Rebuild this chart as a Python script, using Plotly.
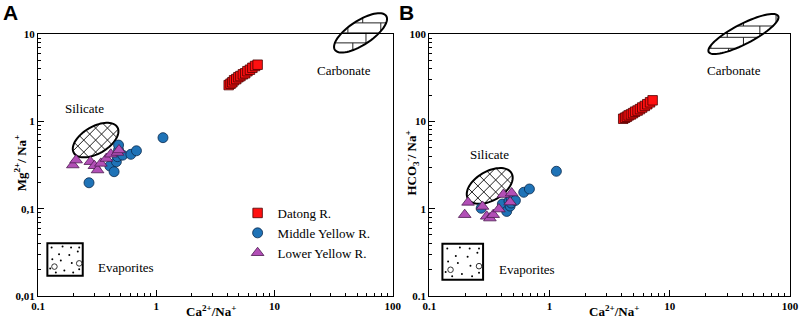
import math
import plotly.graph_objects as go

# ---------------- data ----------------
datong_ca_na = [4.1, 4.25, 4.4, 4.55, 4.75, 4.95, 5.15, 5.4, 5.65, 5.9, 6.2, 6.5, 6.85, 7.2]
datong_mg_na = [2.6, 2.7, 2.8, 2.95, 3.05, 3.2, 3.3, 3.45, 3.55, 3.75, 3.9, 4.1, 4.3, 4.45]
datong_hco3_na = [10.7, 11.0, 11.3, 11.7, 12.0, 12.4, 12.9, 13.3, 13.8, 14.4, 15.0, 15.7, 16.5, 17.4]

middle_ca_na = [0.27, 0.405, 0.44, 0.46, 0.47, 0.48, 0.48, 0.52, 0.61, 0.68, 1.14]
middle_mg_na = [0.198, 0.308, 0.265, 0.345, 0.394, 0.469, 0.535, 0.41, 0.419, 0.46, 0.65]
middle_hco3_na = [1.01, 1.13, 0.93, 1.22, 1.07, 1.16, 1.30, 1.24, 1.54, 1.68, 2.68]

lower_ca_na = [0.197, 0.21, 0.277, 0.30, 0.319, 0.34, 0.379, 0.413, 0.47, 0.484]
lower_mg_na = [0.316, 0.36, 0.345, 0.31, 0.277, 0.33, 0.375, 0.42, 0.44, 0.47]
lower_hco3_na = [0.853, 1.18, 1.06, 0.817, 0.78, 0.853, 0.99, 1.45, 1.19, 1.51]

series_names = ["Datong R.", "Middle Yellow R.", "Lower Yellow R."]
x_ticks = [0.1, 1, 10, 100]
x_ticktext = ["0.1", "1", "10", "100"]
yA_ticks = [0.01, 0.1, 1, 10]
yA_ticktext = ["0,01", "0,1", "1", "10"]
yB_ticks = [0.1, 1, 10, 100]
yB_ticktext = ["0.1", "1", "10", "100"]

# ---------------- layout geometry ----------------
W, H = 809, 328
ML, MR, MT, MB = 38, 10, 34, 32
PW = W - ML - MR
PH = H - MT - MB
WA, WB = 359, 365
domA = [0, WA / PW]
domB = [1 - WB / PW, 1]

SERIF = "Liberation Serif, Times New Roman, serif"
SANS = "Liberation Sans, Arial, sans-serif"
panels = {
    "A": dict(xref="x domain", yref="y domain", xr=(-1, 2), yr=(-2, 1), w=WA, h=PH),
    "B": dict(xref="x2 domain", yref="y2 domain", xr=(-1, 2), yr=(-1, 2), w=WB, h=PH),
}


def dom(p, xv, yv):
    fx = (math.log10(xv) - p["xr"][0]) / (p["xr"][1] - p["xr"][0])
    fy = (math.log10(yv) - p["yr"][0]) / (p["yr"][1] - p["yr"][0])
    return fx, fy


def off(p, c, dx, dy):
    return c[0] + dx / p["w"], c[1] + dy / p["h"]


def chord(a, b, th, p0, d):
    ct, st = math.cos(th), math.sin(th)
    u0 = p0[0] * ct + p0[1] * st
    v0 = -p0[0] * st + p0[1] * ct
    du = d[0] * ct + d[1] * st
    dv = -d[0] * st + d[1] * ct
    A = (du / a) ** 2 + (dv / b) ** 2
    B = 2 * (u0 * du / a ** 2 + v0 * dv / b ** 2)
    C = (u0 / a) ** 2 + (v0 / b) ** 2 - 1
    disc = B * B - 4 * A * C
    if disc <= 0:
        return None
    s1 = (-B - math.sqrt(disc)) / (2 * A)
    s2 = (-B + math.sqrt(disc)) / (2 * A)
    return s1, s2


shapes = []
annotations = []


def ellipse(pk, cx, cy, a, b, deg, hatch=None, bricks=None):
    p = panels[pk]
    c = dom(p, cx, cy)
    th = math.radians(deg)
    segs = []
    if hatch:
        for k in range(-6, 7):
            cc = k * hatch
            for d in [(1, 1), (1, -1)]:
                r = chord(a, b, th, (cc, 0), d)
                if r and r[1] - r[0] > 0.3:
                    segs.append(((cc + r[0] * d[0], r[0] * d[1]), (cc + r[1] * d[0], r[1] * d[1])))
    if bricks:
        rows, verts = bricks
        for yv in rows:
            r = chord(a, b, th, (0, yv), (1, 0))
            if r:
                segs.append(((r[0], yv), (r[1], yv)))
        for (y1, y2, xs) in verts:
            for xv in xs:
                r = chord(a, b, th, (xv, 0), (0, 1))
                if r:
                    lo, hi = max(min(y1, y2), r[0]), min(max(y1, y2), r[1])
                    if hi > lo:
                        segs.append(((xv, lo), (xv, hi)))
    if segs:
        path = ""
        for (s, e) in segs:
            a1 = off(p, c, *s)
            a2 = off(p, c, *e)
            path += f"M{a1[0]:.5f},{a1[1]:.5f} L{a2[0]:.5f},{a2[1]:.5f} "
        shapes.append(dict(type="path", path=path, xref=p["xref"], yref=p["yref"],
                           line=dict(color="#222222", width=1), layer="below"))
    pts = []
    for i in range(73):
        t = 2 * math.pi * i / 72
        dx = a * math.cos(t) * math.cos(th) - b * math.sin(t) * math.sin(th)
        dy = a * math.cos(t) * math.sin(th) + b * math.sin(t) * math.cos(th)
        pts.append(off(p, c, dx, dy))
    path = "M" + " L".join(f"{x:.5f},{y:.5f}" for x, y in pts) + " Z"
    shapes.append(dict(type="path", path=path, xref=p["xref"], yref=p["yref"],
                       line=dict(color="black", width=2), layer="below"))


dots = [(0.12, 0.13), (0.43, 0.10), (0.67, 0.13), (0.9, 0.13), (0.33, 0.34), (0.62, 0.36),
        (0.86, 0.25), (0.14, 0.49), (0.38, 0.53), (0.69, 0.61), (0.08, 0.78), (0.48, 0.84),
        (0.9, 0.8), (0.24, 0.9), (0.73, 0.9)]
rings = [(0.2, 0.72), (0.9, 0.62)]


def evap_box(pk, x0, x1, y0, y1):
    p = panels[pk]
    a = dom(p, x0, y0)
    b = dom(p, x1, y1)
    shapes.append(dict(type="rect", xref=p["xref"], yref=p["yref"], x0=a[0], x1=b[0], y0=a[1], y1=b[1],
                       line=dict(color="black", width=2), layer="below"))
    for fx, fy in dots:
        cx = a[0] + fx * (b[0] - a[0])
        cy = b[1] - fy * (b[1] - a[1])
        r = 1.0
        shapes.append(dict(type="circle", xref=p["xref"], yref=p["yref"],
                           x0=cx - r / p["w"], x1=cx + r / p["w"], y0=cy - r / p["h"], y1=cy + r / p["h"],
                           fillcolor="black", line=dict(width=0), layer="below"))
    for fx, fy in rings:
        cx = a[0] + fx * (b[0] - a[0])
        cy = b[1] - fy * (b[1] - a[1])
        r = 2.8
        shapes.append(dict(type="circle", xref=p["xref"], yref=p["yref"],
                           x0=cx - r / p["w"], x1=cx + r / p["w"], y0=cy - r / p["h"], y1=cy + r / p["h"],
                           line=dict(color="#333333", width=1), layer="below"))


def label(pk, text, xv, yv, size=13):
    p = panels[pk]
    fx, fy = dom(p, xv, yv)
    annotations.append(dict(text=text, xref=p["xref"], yref=p["yref"], x=fx, y=fy, showarrow=False,
                            font=dict(family=SERIF, size=size, color="black"), xanchor="center", yanchor="middle"))


def paper_text(text, px, py, size, family, bold=False, angle=0):
    annotations.append(dict(text=text, xref="paper", yref="paper", x=(px - ML) / PW, y=(H - MB - py) / PH,
                            showarrow=False, textangle=angle, xanchor="center", yanchor="middle",
                            font=dict(family=family, size=size, color="black", weight="bold" if bold else "normal")))


# Panel A decorations
ellipse("A", 0.307, 0.61, 25.5, 13.5, 30, hatch=12)
ellipse("A", 53.4, 10.3, 31, 12, 33,
        bricks=([10, 0, -10], [(10, 22, [2.2, -30.8, 35.2]), (0, 10, [-12.8, 20.5]),
                               (-10, 0, [5.5, -27.5, 38.5]), (-22, -10, [-7.8, 25.2])]))
evap_box("A", 0.12, 0.239, 0.0171, 0.0401)
label("A", "Carbonate", 38.5, 3.87)
label("A", "Silicate", 0.249, 1.42)
label("A", "Evaporites", 0.554, 0.0214)

# Panel B decorations
ellipse("B", 0.318, 1.82, 25.5, 14.5, 30, hatch=12)
ellipse("B", 41, 100, 39.5, 10, 27,
        bricks=([8, -3.3, -14.3], [(8, 20, [0, 33]), (-3.3, 8, [16.6, -16.4]),
                                   (-14.3, -3.3, [0, -33, 33]), (-25, -14.3, [-15, 18])]))
evap_box("B", 0.1285, 0.28, 0.153, 0.396)
label("B", "Carbonate", 34.1, 37.9)
label("B", "Silicate", 0.3145, 4.18)
label("B", "Evaporites", 0.652, 0.199)

# panel letters and axis titles
paper_text("A", 10, 13, 21, SANS, bold=True)
paper_text("B", 411, 13, 21, SANS, bold=True)
paper_text("<b>Ca<sup>2+</sup>/Na<sup>+</sup></b>", 213, 311, 13, SERIF)
paper_text("<b>Ca<sup>2+</sup>/Na<sup>+</sup></b>", 621, 311, 13, SERIF)
paper_text("<b>Mg<sup>2+</sup>/ Na<sup>+</sup></b>", 20, 163, 13, SERIF, angle=-90)
paper_text("<b>HCO<sub>3</sub><sup>-</sup>/ Na<sup>+</sup></b>", 416, 163, 13, SERIF, angle=-90)

# ---------------- traces ----------------
red = dict(symbol="square", size=9.5, color="#ff1010", line=dict(color="#4a0000", width=0.8))
blue = dict(symbol="circle", size=10, color="#1f73b7", line=dict(color="#0b2a4d", width=0.8))
purple = dict(symbol="triangle-up", size=11, color="#b24fb6", line=dict(color="#4d1a50", width=0.8))

fig = go.Figure()
fig.add_trace(go.Scatter(x=datong_ca_na, y=datong_mg_na, mode="markers", name=series_names[0],
                         marker=red, xaxis="x", yaxis="y"))
fig.add_trace(go.Scatter(x=middle_ca_na, y=middle_mg_na, mode="markers", name=series_names[1],
                         marker=blue, xaxis="x", yaxis="y"))
fig.add_trace(go.Scatter(x=lower_ca_na, y=lower_mg_na, mode="markers", name=series_names[2],
                         marker=purple, xaxis="x", yaxis="y"))
fig.add_trace(go.Scatter(x=datong_ca_na, y=datong_hco3_na, mode="markers", name=series_names[0],
                         marker=red, xaxis="x2", yaxis="y2", showlegend=False))
fig.add_trace(go.Scatter(x=middle_ca_na, y=middle_hco3_na, mode="markers", name=series_names[1],
                         marker=blue, xaxis="x2", yaxis="y2", showlegend=False))
fig.add_trace(go.Scatter(x=lower_ca_na, y=lower_hco3_na, mode="markers", name=series_names[2],
                         marker=purple, xaxis="x2", yaxis="y2", showlegend=False))


def minor_vals(lo, hi):
    out = []
    for e in range(lo, hi):
        for m in range(2, 10):
            out.append(m * 10 ** e)
    return out


def axis(dom_, rng, tv, tt, anchor, mv):
    return dict(type="log", domain=dom_, range=list(rng), anchor=anchor, showgrid=False, zeroline=False,
                showline=True, linecolor="black", linewidth=1.3, mirror=True,
                ticks="inside", ticklen=6, tickwidth=1, tickcolor="black",
                tickvals=tv, ticktext=tt,
                tickfont=dict(family=SERIF, size=11, color="black", weight="bold"),
                minor=dict(tickvals=mv, ticks="inside", ticklen=3, tickcolor="black", tickwidth=1, showgrid=False))


fig.update_layout(
    width=W, height=H, margin=dict(l=ML, r=MR, t=MT, b=MB),
    paper_bgcolor="white", plot_bgcolor="white",
    xaxis=axis(domA, (-1, 2), x_ticks, x_ticktext, "y", minor_vals(-1, 2)),
    yaxis=axis([0, 1], (-2, 1), yA_ticks, yA_ticktext, "x", minor_vals(-2, 1)),
    xaxis2=axis(domB, (-1, 2), x_ticks, x_ticktext, "y2", minor_vals(-1, 2)),
    yaxis2=axis([0, 1], (-1, 2), yB_ticks, yB_ticktext, "x2", minor_vals(-1, 2)),
    shapes=shapes, annotations=annotations,
    showlegend=True,
    legend=dict(x=(240 - ML) / PW, y=(H - MB - 198) / PH, xanchor="left", yanchor="top",
                bgcolor="rgba(0,0,0,0)", font=dict(family=SERIF, size=13, color="black"),
                tracegroupgap=0),
)

fig.write_html("out.html", config={"displayModeBar": False},
               post_script="document.body.style.margin='0';")
